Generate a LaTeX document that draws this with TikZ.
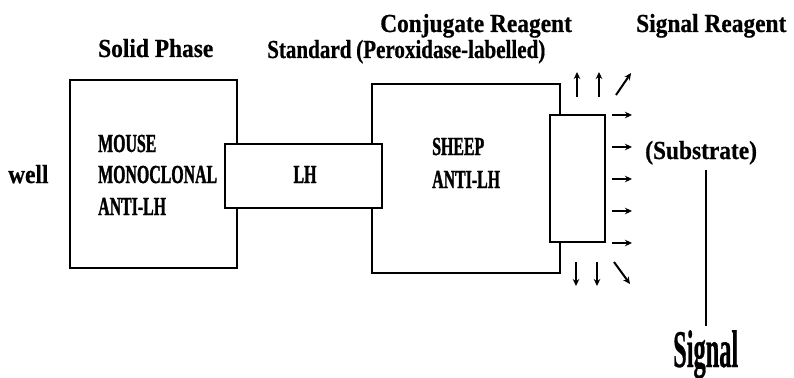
\documentclass[tikz,border=0pt]{standalone}
\usepackage{fontspec}
\usetikzlibrary{arrows.meta}
\newfontfamily\lowf[FakeStretch=0.9,FakeBold=0.6]{Liberation Serif}
\newfontfamily\midf[FakeStretch=0.81,FakeBold=0.6]{Liberation Serif}
\newfontfamily\capf[FakeStretch=0.61,FakeBold=1.2]{Liberation Serif}
\newfontfamily\bigf[FakeStretch=0.46,FakeBold=0.5]{Liberation Serif}
\begin{document}
\begin{tikzpicture}[x=1pt,y=-1pt,
  box/.style={draw, line width=2.4pt, fill=white, inner sep=0pt, outer sep=0pt},
  lbl/.style={anchor=base west, inner sep=0pt, font=\lowf\bfseries\fontsize{26}{30}\selectfont},
  midlbl/.style={anchor=base west, inner sep=0pt, font=\midf\bfseries\fontsize{26}{30}\selectfont},
  captxt/.style={anchor=base west, inner sep=0pt, font=\capf\bfseries\fontsize{26}{28}\selectfont},
  ray/.style={line width=2pt, -{Stealth[length=7pt,width=6.5pt]}}]
\useasboundingbox (0,0) rectangle (794,377);
% boxes
\node[box, minimum width=167pt, minimum height=188pt] (solid) at (153.5,174) {};
\node[box, minimum width=188pt, minimum height=189pt] (sheep) at (466,178.5) {};
\node[box, minimum width=157pt, minimum height=64pt] (lh) at (303.5,176) {};
\node[box, minimum width=55pt, minimum height=127pt] (enz) at (577.5,178.5) {};
% headings
\node[lbl] (solidlbl) at (98,57) {Solid Phase};
\node[midlbl] (stdlbl) at (267,58) {Standard};
\node[midlbl] (perlbl) at (356,58) {(Peroxidase-labelled)};
\node[lbl] (conjlbl) at (380,32) {Conjugate Reagent};
\node[lbl] (siglbl) at (636,32) {Signal Reagent};
\node[lbl] (well) at (8,183) {well};
% box texts
\node[captxt] (m1) at (98,152) {MOUSE};
\node[captxt] (m2) at (98,183) {MONOCLONAL};
\node[captxt] (m3) at (98,215) {ANTI-LH};
\node[captxt, anchor=base] (lhtxt) at (305,183) {LH};
\node[captxt] (s1) at (432,155) {SHEEP};
\node[captxt] (s2) at (432,188) {ANTI-LH};
% substrate and signal
\node[lbl] (subs) at (645,159) {(Substrate)};
\node[anchor=base west, inner sep=0pt, font=\bigf\bfseries\fontsize{53}{60}\selectfont] (signal) at (673,367) {Signal};
\draw[line width=1.8pt, shorten <=5pt, shorten >=4pt] (signal.north |- subs.south) -- (signal.north);
% emission arrows
\draw[ray] (577,97) -- (577,72);
\draw[ray] (599,97) -- (599,72);
\draw[ray] (616,95) -- (631,73);
\foreach \yy in {115,147,179,211,243} \draw[ray] (612,\yy) -- (632,\yy);
\draw[ray] (576,262) -- (576,286);
\draw[ray] (597,262) -- (597,286);
\draw[ray] (614,262) -- (630,284);
\end{tikzpicture}
\end{document}
